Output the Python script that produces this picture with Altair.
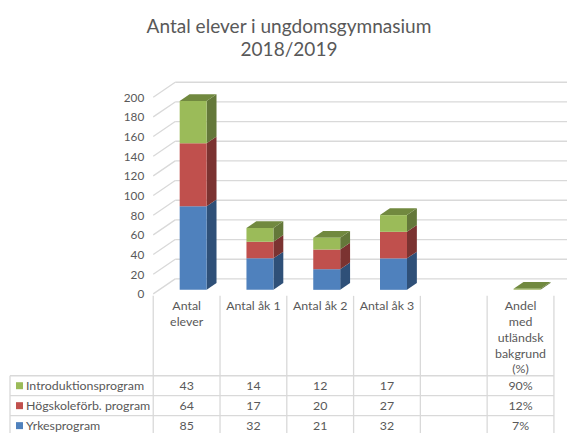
import altair as alt
import pandas as pd

categories = ["Antal\nelever", "Antal åk 1", "Antal åk 2", "Antal åk 3", "", "Andel\nmed\nutländsk\nbakgrund\n(%)"]
series = ["Yrkesprogram", "Högskoleförb. program", "Introduktionsprogram"]
yrkes = [85, 32, 21, 32, None, 0.07]
hogskole = [64, 17, 20, 27, None, 0.12]
intro = [43, 14, 12, 17, None, 0.90]
yrkes_txt = ["85", "32", "21", "32", "", "7%"]
hogskole_txt = ["64", "17", "20", "27", "", "12%"]
intro_txt = ["43", "14", "12", "17", "", "90%"]
ticks = list(range(0, 201, 20))
front = ["#4F81BD", "#C0504D", "#9BBB59"]
side = ["#2F5078", "#7B3331", "#64783A"]
top_face = "#71893F"

TXT = "#595959"
GRID = "#D9D9D9"
FONT = "Lato"
COL_PX = 66.9
PX_PER_V = 0.985
DX = 22 / COL_PX          # depth of the 3D box in column units
DV = 15 / PX_PER_V        # depth of the 3D box in value units
D0, D1 = 0.27, 0.72       # depth position of bar front and back
BAR = 27 / COL_PX
SHIFT = 0.6 / COL_PX
W = 560
XDOM = [-145.5 / COL_PX, (W - 145.5) / COL_PX]
x_s = alt.Scale(domain=XDOM, nice=False, zero=False)
y_s = alt.Scale(domain=[0, 212 / PX_PER_V], nice=False, zero=False)
y_axis = alt.Axis(
    values=ticks, grid=False, domain=False, ticks=False, title=None,
    labelPadding=0, offset=-136, labelFont=FONT, labelFontSize=11.8, labelColor=TXT)

vals = [yrkes, hogskole, intro]
rects, sides, tops = [], [], []
for i, c in enumerate(categories):
    if vals[0][i] is None:
        continue
    base = 0.0
    for s in range(3):
        v = vals[s][i]
        lo, hi = base, base + v
        base = hi
        xl = i + 0.5 - BAR / 2 + D0 * DX + SHIFT
        xr = xl + BAR
        rects.append(dict(x=xl, x2=xr, y=lo + D0 * DV, y2=hi + D0 * DV, s=series[s]))
        for d in (D0, D1):
            sides.append(dict(k=f"{i}-{s}", x=xr + (d - D0) * DX, y=lo + d * DV, y2=hi + d * DV, s=series[s]))
    for d in (D0, D1):
        tops.append(dict(k=str(i), y=base + d * DV, x=xl + (d - D0) * DX, x2=xr + (d - D0) * DX))

color_front = alt.Color("s:N", scale=alt.Scale(domain=series, range=front), legend=None)
color_side = alt.Color("s:N", scale=alt.Scale(domain=series, range=side), legend=None)

X = lambda f="x": alt.X(f + ":Q", scale=x_s, axis=None)
Y = lambda f="y": alt.Y(f + ":Q", scale=y_s, axis=y_axis)

grid_df = pd.DataFrame({"v": ticks})
grid_df["y"] = grid_df.v + DV
grid_df["x"] = DX
grid_df["x2"] = XDOM[1]
diag_df = pd.DataFrame({"v": ticks})
diag_df["x"] = 0.0
diag_df["x2"] = DX
diag_df["y"] = diag_df.v.astype(float)
diag_df["y2"] = diag_df.v + DV

grid_layer = alt.Chart(grid_df).mark_rule(stroke=GRID, strokeWidth=1.3).encode(
    x=X(), x2="x2:Q", y=Y())
diag_layer = alt.Chart(diag_df).mark_rule(stroke=GRID, strokeWidth=1.3).encode(
    x=X(), x2="x2:Q", y=Y(), y2="y2:Q")
side_layer = alt.Chart(pd.DataFrame(sides)).mark_area(orient="vertical").encode(
    x=X(), y=Y(), y2="y2:Q", color=color_side, detail="k:N")
top_layer = alt.Chart(pd.DataFrame(tops)).mark_area(orient="horizontal", color=top_face).encode(
    y=Y(), x=X(), x2="x2:Q", detail="k:N")
front_layer = alt.Chart(pd.DataFrame(rects)).mark_rect().encode(
    x=X(), x2="x2:Q", y=Y(), y2="y2:Q", color=color_front)

top = alt.layer(grid_layer, diag_layer, side_layer, top_layer, front_layer).resolve_scale(
    color="independent").properties(width=W, height=212)

# ---- data table
ROW_PX = 20
TBL_H = 140
HEAD = 80 / ROW_PX
ROWS = TBL_H / ROW_PX
r_s = alt.Scale(domain=[0, ROWS], reverse=True, nice=False, zero=False)
R = lambda f="y": alt.Y(f + ":Q", scale=r_s, axis=None)
TBL_L = -143.5 / COL_PX
KEY_X = -134 / COL_PX
LBL_X = -127.5 / COL_PX

vl = pd.DataFrame({"x": list(range(7)), "y": [0.0] * 7, "y2": [ROWS] * 7})
vl2 = pd.DataFrame({"x": [TBL_L], "y": [HEAD], "y2": [ROWS]})
hl = pd.DataFrame({"y": [HEAD, HEAD + 1, HEAD + 2], "x": [TBL_L] * 3, "x2": [6.0] * 3})
hdr = pd.DataFrame({"x": [i + 0.5 for i in range(6)], "y": [0.22] * 6, "t": categories})
rows = []
for r, (name, txt) in enumerate(zip(series[::-1], [intro_txt, hogskole_txt, yrkes_txt])):
    for i, t in enumerate(txt):
        rows.append(dict(x=i + 0.5, y=HEAD + 0.5 + r, t=t))
cell = pd.DataFrame(rows)
lab = pd.DataFrame({"x": [LBL_X] * 3, "kx": [KEY_X] * 3,
                    "y": [HEAD + 0.5, HEAD + 1.5, HEAD + 2.5], "s": series[::-1]})

rule_style = dict(stroke=GRID, strokeWidth=1.3)
t_style = dict(font=FONT, fontSize=12.4, color=TXT)
tbl = alt.layer(
    alt.Chart(vl).mark_rule(**rule_style).encode(x=X(), y=R(), y2="y2:Q"),
    alt.Chart(vl2).mark_rule(**rule_style).encode(x=X(), y=R(), y2="y2:Q"),
    alt.Chart(hl).mark_rule(**rule_style).encode(x=X(), x2="x2:Q", y=R()),
    alt.Chart(hdr).mark_text(baseline="top", align="center", lineBreak="\n", lineHeight=15.8, **t_style).encode(
        x=X(), y=R(), text="t:N"),
    alt.Chart(cell).mark_text(align="center", baseline="middle", **t_style).encode(
        x=X(), y=R(), text="t:N"),
    alt.Chart(lab).mark_text(align="left", baseline="middle", **t_style).encode(
        x=X(), y=R(), text="s:N"),
    alt.Chart(lab).mark_square(size=49, opacity=1).encode(
        x=X("kx"), y=R(), color=color_front),
).properties(width=W, height=TBL_H)

chart = alt.vconcat(top, tbl, spacing=2, bounds="flush",
    padding={"top": 9, "left": 0, "right": 0, "bottom": 0},
    title=alt.TitleParams(
    text=["Antal elever i ungdomsgymnasium", "2018/2019"],
    font=FONT, fontSize=19.1, fontWeight="normal", color=TXT, lineHeight=23,
    anchor="middle", frame="group", offset=21.5, dx=1.5)
).configure_view(stroke=None)

chart.save("out.html", embed_options={"renderer": "svg", "actions": False})
